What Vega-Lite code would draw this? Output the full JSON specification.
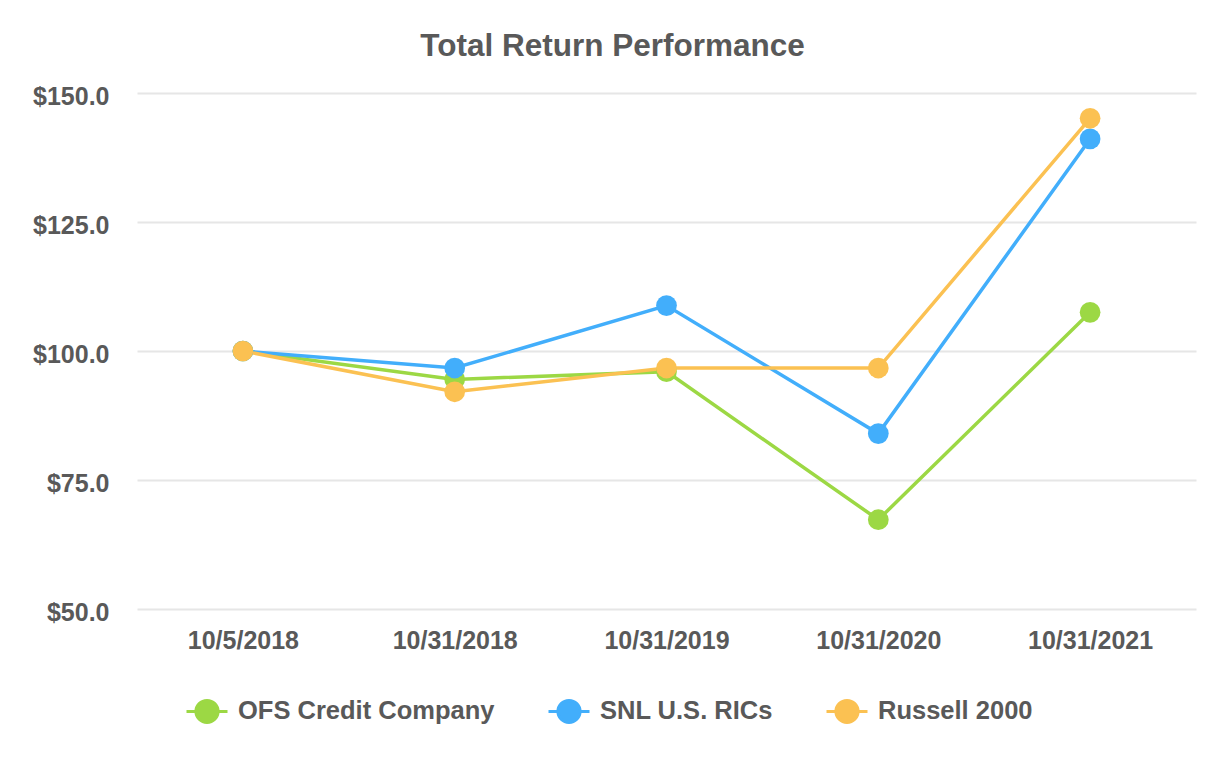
{
  "$schema": "https://vega.github.io/schema/vega-lite/v6.json",
  "autosize": "none",
  "width": 1059,
  "height": 516,
  "padding": {"left": 137, "top": 93, "right": 30, "bottom": 151},
  "background": "white",
  "title": {
    "text": "Total Return Performance",
    "anchor": "middle",
    "frame": "group",
    "dx": -54,
    "baseline": "alphabetic",
    "offset": -3,
    "font": "Liberation Sans",
    "fontSize": 31.5,
    "fontWeight": "bold",
    "color": "#595959"
  },
  "data": {
    "values": [
      {"date": "10/5/2018", "series": "OFS Credit Company", "value": 100.0},
      {"date": "10/31/2018", "series": "OFS Credit Company", "value": 94.5},
      {"date": "10/31/2019", "series": "OFS Credit Company", "value": 96.0},
      {"date": "10/31/2020", "series": "OFS Credit Company", "value": 67.3},
      {"date": "10/31/2021", "series": "OFS Credit Company", "value": 107.5},
      {"date": "10/5/2018", "series": "SNL U.S. RICs", "value": 100.0},
      {"date": "10/31/2018", "series": "SNL U.S. RICs", "value": 96.7},
      {"date": "10/31/2019", "series": "SNL U.S. RICs", "value": 108.8},
      {"date": "10/31/2020", "series": "SNL U.S. RICs", "value": 84.0},
      {"date": "10/31/2021", "series": "SNL U.S. RICs", "value": 141.1},
      {"date": "10/5/2018", "series": "Russell 2000", "value": 100.0},
      {"date": "10/31/2018", "series": "Russell 2000", "value": 92.1},
      {"date": "10/31/2019", "series": "Russell 2000", "value": 96.7},
      {"date": "10/31/2020", "series": "Russell 2000", "value": 96.7},
      {"date": "10/31/2021", "series": "Russell 2000", "value": 145.1}
    ]
  },
  "encoding": {
    "x": {
      "field": "date",
      "type": "ordinal",
      "sort": ["10/5/2018", "10/31/2018", "10/31/2019", "10/31/2020", "10/31/2021"],
      "scale": {"type": "point", "padding": 0.5},
      "axis": {
        "title": null,
        "labelAngle": 0,
        "domain": false,
        "ticks": false,
        "grid": false,
        "labelPadding": 19,
        "labelFont": "Liberation Sans",
        "labelFontSize": 25,
        "labelFontWeight": "bold",
        "labelColor": "#595959"
      }
    },
    "y": {
      "field": "value",
      "type": "quantitative",
      "scale": {"domain": [50, 150], "nice": false, "zero": false},
      "axis": {
        "title": null,
        "values": [50, 75, 100, 125, 150],
        "labelExpr": "'$' + format(datum.value, '.1f')",
        "domain": false,
        "ticks": false,
        "grid": true,
        "gridColor": "#e6e6e6",
        "gridWidth": 2,
        "labelPadding": 28,
        "labelOffset": 3,
        "labelFont": "Liberation Sans",
        "labelFontSize": 25,
        "labelFontWeight": "bold",
        "labelColor": "#595959"
      }
    },
    "color": {
      "field": "series",
      "type": "nominal",
      "sort": ["OFS Credit Company", "SNL U.S. RICs", "Russell 2000"],
      "scale": {
        "domain": ["OFS Credit Company", "SNL U.S. RICs", "Russell 2000"],
        "range": ["#9cd844", "#42aefb", "#fbc152"]
      },
      "legend": {
        "title": null,
        "orient": "none",
        "direction": "horizontal",
        "legendX": 48,
        "legendY": 596,
        "symbolType": "M-1,0H1M-0.54,0A0.54,0.54 0 1 0 0.54,0A0.54,0.54 0 1 0 -0.54,0Z",
        "symbolSize": 1681,
        "symbolStrokeWidth": 3,
        "labelOffset": 9,
        "columnPadding": 47,
        "labelFont": "Liberation Sans",
        "labelFontSize": 25.5,
        "labelFontWeight": "bold",
        "labelColor": "#595959",
        "labelLimit": 400,
        "encode": {
          "symbols": {
            "update": {
              "fill": {"scale": "color", "field": "value"},
              "stroke": {"scale": "color", "field": "value"},
              "fillOpacity": {"value": 1},
              "opacity": {"value": 1}
            }
          }
        }
      }
    }
  },
  "layer": [
    {"mark": {"type": "line", "strokeWidth": 3.5}},
    {"mark": {"type": "point", "filled": true, "size": 430, "opacity": 1}}
  ],
  "config": {"view": {"stroke": null}}
}
